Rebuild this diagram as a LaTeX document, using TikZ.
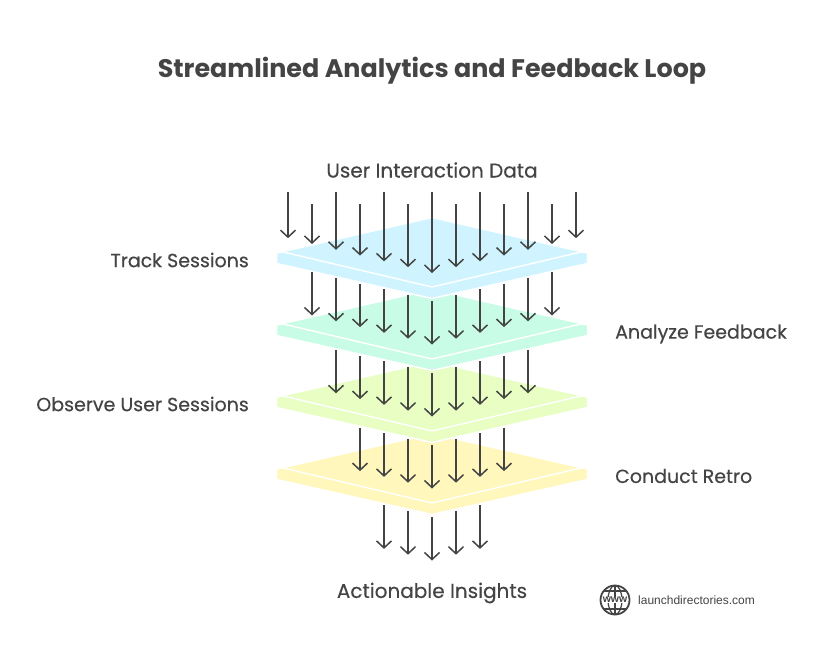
\documentclass[tikz,border=0pt]{standalone}
\usepackage{fontspec}
\setmainfont{Poppins}
\newfontfamily\lblfont[FakeBold=0.3]{Poppins}
\newfontfamily\logofont{Liberation Sans}
\usetikzlibrary{arrows.meta}
\definecolor{inkgray}{HTML}{444444}
\definecolor{layerblue}{HTML}{D0F4FF}
\definecolor{layergreen}{HTML}{C8FCE6}
\definecolor{layerlime}{HTML}{E8FEC2}
\definecolor{layeryellow}{HTML}{FFF7BC}
\tikzset{
  flow/.style={inkgray,line width=1.5pt,-{Straight Barb[length=7pt,width=15pt,line width=1.5pt]}},
  lbl/.style={inkgray,font=\lblfont\fontsize{19}{22}\selectfont,inner sep=0pt},
}
\begin{document}
\begin{tikzpicture}[x=1pt,y=-1pt]
\useasboundingbox[fill=white] (0,0) rectangle (816,661);

% layers, lowest first
\foreach \c/\y in {layeryellow/216,layerlime/144,layergreen/72,layerblue/0}{
  \filldraw[fill=\c,draw=white,line width=1.5pt,line join=round] (276.5,253+\y) -- (432,217.5+\y) -- (587.5,253+\y) -- (587.5,263.5+\y) -- (432,298.5+\y) -- (276.5,263.5+\y) -- cycle;
  \draw[white,line width=1.4pt] (281,251.5+\y) -- (432,287+\y) -- (583,251.5+\y);
}

% arrows, top row
\foreach \i in {-6,...,6}{
  \pgfmathsetmacro{\ya}{iseven(\i)?192:204}
  \coordinate (top\i) at ({432+24*\i},\ya);
  \coordinate (bot\i) at ({432+24*\i},{273-5.8*abs(\i)});
  \draw[flow] (top\i) -- (bot\i);
}
% arrows, other rows
\foreach \n/\ys in {5/301,4/373,3/445,2/517}{
  \foreach \i in {-\n,...,\n}{
    \coordinate (a\ys\i) at ({432+24*\i},{\ys-5.8*abs(\i)});
    \coordinate (b\ys\i) at ({432+24*\i},{\ys+43.5-5.8*abs(\i)});
    \draw[flow] (a\ys\i) -- (b\ys\i);
  }
}

% labels
\node[inkgray,font=\fontsize{25.4}{28}\selectfont\bfseries] (title) at (432,71) {Streamlined Analytics and Feedback Loop};
\node[lbl,font=\lblfont\fontsize{20}{22}\selectfont] (input) at (432,170) {User Interaction Data};
\node[lbl,anchor=east] (track) at (249,260) {Track Sessions};
\node[lbl,anchor=west] (analyze) at (615,334) {Analyze Feedback};
\node[lbl,anchor=east] (observe) at (249,404) {Observe User Sessions};
\node[lbl,anchor=west] (retro) at (615,476) {Conduct Retro};
\node[lbl,font=\lblfont\fontsize{20}{22}\selectfont] (output) at (432,593) {Actionable Insights};

% logo
\draw[inkgray,line width=1.8pt] (615,600) circle (14.5);
\draw[inkgray,line width=1.2pt] (615,585.5) arc[start angle=-90,end angle=-270,x radius=7,y radius=14.5];
\draw[inkgray,line width=1.2pt] (615,585.5) arc[start angle=-90,end angle=90,x radius=7,y radius=14.5];
\draw[inkgray,line width=1.2pt] (615,585.5) -- (615,614.5);
\draw[inkgray,line width=1.2pt] (604,591) -- (626,591) (604,609) -- (626,609);
\node[fill=white,text=inkgray,inner sep=.6pt,font=\logofont\bfseries\fontsize{10.5}{11}\selectfont] (www) at (615,600) {www};
\node[inkgray,anchor=west,inner sep=0pt,font=\logofont\fontsize{12}{14}\selectfont] (site) at (638,600) {launchdirectories.com};
\end{tikzpicture}
\end{document}
